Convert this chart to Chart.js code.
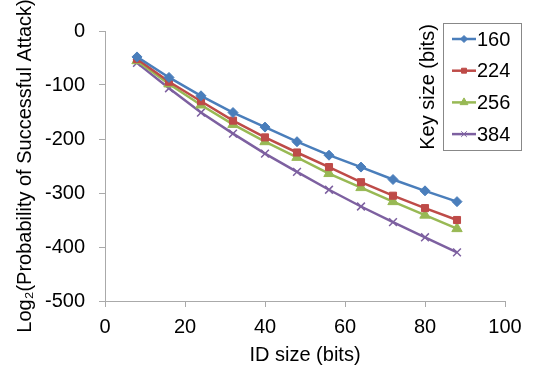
<!DOCTYPE html>
<html>
<head>
<meta charset="utf-8">
<script src="https://cdn.jsdelivr.net/npm/chart.js@4"></script>
<style>
  html, body { margin: 0; padding: 0; background: #fff; }
  #wrap { width: 537px; height: 377px; }
</style>
</head>
<body>
<div id="wrap"><canvas id="chart" width="537" height="377"></canvas></div>
<script>
const idSizes = [8, 16, 24, 32, 40, 48, 56, 64, 72, 80, 88];
const keySizes = ['160', '224', '256', '384'];
const key160 = [-48, -86, -120, -151, -178, -205, -230, -252, -275, -296, -316];
const key224 = [-52, -94, -130, -166, -197, -225, -252, -280, -305, -328, -350];
const key256 = [-55, -98, -137, -173, -205, -234, -264, -290, -316, -341, -366];
const key384 = [-59, -106, -151, -190, -227, -261, -294, -325, -354, -382, -410];

const colors = ['#4a7ebb', '#be4b48', '#98b954', '#7d60a0'];
const shapes = ['rectRot', 'rect', 'triangle', 'crossRot'];
const radii = [5, 5, 6, 5.5];
const allValues = [key160, key224, key256, key384];

const FONT = 'Liberation Sans, Arial, sans-serif';

const datasets = keySizes.map((k, i) => ({
  label: k,
  data: idSizes.map((x, j) => ({ x: x, y: allValues[i][j] })),
  borderColor: colors[i],
  backgroundColor: colors[i],
  borderWidth: 2.5,
  pointStyle: shapes[i],
  pointRadius: radii[i],
  pointBorderWidth: i === 3 ? 1.5 : 1,
  pointBorderColor: colors[i],
  pointBackgroundColor: colors[i],
  tension: 0
}));

// legend box with vertical title, drawn inside the plot like the original
const boxLegend = {
  id: 'boxLegend',
  afterDraw(chart) {
    const ctx = chart.ctx;
    const bx = 443, by = 23, bw = 78, bh = 127;
    ctx.save();
    ctx.fillStyle = '#fff';
    ctx.fillRect(bx, by, bw, bh);
    ctx.strokeStyle = '#888';
    ctx.lineWidth = 1;
    ctx.strokeRect(bx + 0.5, by + 0.5, bw, bh);

    chart.data.datasets.forEach((ds, i) => {
      const y = 39 + i * 31.7;
      ctx.strokeStyle = ds.borderColor;
      ctx.fillStyle = ds.borderColor;
      ctx.lineWidth = 2.5;
      ctx.beginPath();
      ctx.moveTo(452, y);
      ctx.lineTo(476, y);
      ctx.stroke();
      ctx.lineWidth = 1;
      Chart.helpers.drawPoint(ctx, {
        pointStyle: ds.pointStyle, radius: ds.pointRadius - 1.5, borderWidth: 1
      }, 464, y);
      ctx.fillStyle = '#000';
      ctx.font = '20px ' + FONT;
      ctx.textBaseline = 'middle';
      ctx.textAlign = 'left';
      ctx.fillText(ds.label, 477, y + 1);
    });

    ctx.translate(428, 87);
    ctx.rotate(-Math.PI / 2);
    ctx.fillStyle = '#000';
    ctx.font = '20px ' + FONT;
    ctx.textAlign = 'center';
    ctx.textBaseline = 'middle';
    ctx.fillText('Key size (bits)', 0, 0);
    ctx.restore();
  }
};

new Chart(document.getElementById('chart').getContext('2d'), {
  type: 'line',
  data: { datasets: datasets },
  options: {
    responsive: false,
    animation: false,
    layout: { padding: { top: 31, right: 32, left: 10, bottom: 8 } },
    plugins: {
      legend: { display: false },
      tooltip: { enabled: false }
    },
    scales: {
      x: {
        type: 'linear',
        min: 0,
        max: 100,
        ticks: { stepSize: 20, color: '#000', font: { family: FONT, size: 20 }, padding: 8 },
        grid: { drawOnChartArea: false, tickLength: 6, color: '#aaa' },
        border: { color: '#aaa' },
        title: { display: true, text: 'ID size (bits)', color: '#000', font: { family: FONT, size: 20 }, padding: { top: 0, bottom: 2 } },
        afterFit(scale) { scale.height = 68; }
      },
      y: {
        min: -500,
        max: 0,
        ticks: { stepSize: 100, color: '#000', font: { family: FONT, size: 20 }, padding: 14 },
        grid: { drawOnChartArea: false, tickLength: 6, color: '#aaa' },
        border: { color: '#aaa' },
        title: { display: true, text: 'Log\u2082(Probability of Successful Attack)', color: '#000', font: { family: FONT, size: 20 }, padding: { top: 3, bottom: 0 } },
        afterFit(scale) { scale.width = 95; }
      }
    }
  },
  plugins: [boxLegend]
});
</script>
</body>
</html>
